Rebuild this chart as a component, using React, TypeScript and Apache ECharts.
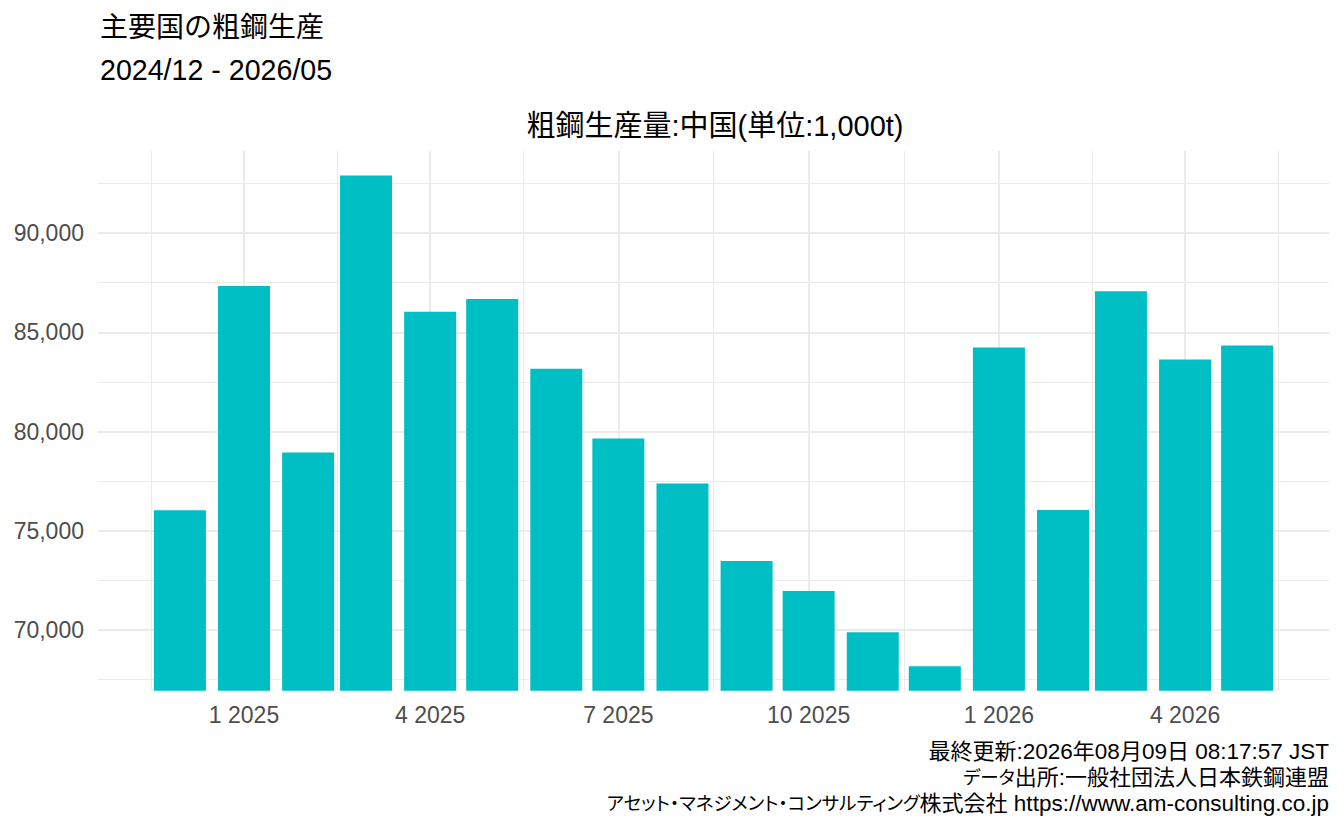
import React, { useEffect, useRef } from "react";
import * as echarts from "echarts";

// ---- data ----
const months = [
  "2024-12", "2025-01", "2025-02", "2025-03", "2025-04", "2025-05",
  "2025-06", "2025-07", "2025-08", "2025-09", "2025-10", "2025-11",
  "2025-12", "2026-01", "2026-02", "2026-03", "2026-04", "2026-05",
];
const production = [
  76030, 87337, 78945, 92900, 86030, 86683,
  83166, 79648, 77387, 73477, 71970, 69884,
  68176, 84231, 76040, 87063, 83628, 84332,
];
const xMajorBreaks = ["2025-01", "2025-04", "2025-07", "2025-10", "2026-01", "2026-04"];
const xMinorBreaks = ["2024-11-17", "2025-02-15", "2025-05-16", "2025-08-16", "2025-11-16", "2026-02-15", "2026-05-16"];
const yMajorBreaks = [70000, 75000, 80000, 85000, 90000];
const yMinorBreaks = [67500, 72500, 77500, 82500, 87500, 92500];

const titleText = "主要国の粗鋼生産";
const subtitleText = "2024/12 - 2026/05";
const panelTitle = "粗鋼生産量:中国(単位:1,000t)";
const captionLines = [
  "最終更新:2026年08月09日 08:17:57 JST",
  "データ出所:一般社団法人日本鉄鋼連盟",
  "アセット・マネジメント・コンサルティング株式会社 https://www.am-consulting.co.jp",
];

const FONT = "'Liberation Sans', Arial, 'Noto Sans CJK JP', sans-serif";
const DAY = 86400000;

function toTime(s: string): number {
  const [y, m, d] = s.split("-").map(Number);
  return Date.UTC(y, m - 1, d || 1);
}

// split a caption line into kana / kanji / latin runs for rich text
function toRich(s: string): string {
  const kind = (ch: string) =>
    /[\u3040-\u30ff]/.test(ch) ? "kana" : /[\u4e00-\u9fff]/.test(ch) ? "kanji" : "en";
  let out = "";
  let cur = "";
  let curKind = "";
  for (const ch of s) {
    const k = kind(ch);
    if (k !== curKind && cur) {
      out += `{${curKind}|${cur}}`;
      cur = "";
    }
    curKind = k;
    cur += ch;
  }
  if (cur) out += `{${curKind}|${cur}}`;
  return out;
}

export default function App() {
  const ref = useRef<HTMLDivElement>(null);

  useEffect(() => {
    document.body.style.margin = "0";
    const css = document.createElement("style");
    css.textContent = 'text[style*="18.5px"] { font-feature-settings: "palt" 1; }';
    document.head.appendChild(css);
    if (!ref.current) return;
    const chart = echarts.init(ref.current, null, { renderer: "svg" });

    const lo = Math.min(...production);
    const hi = Math.max(...production);
    const pad = (hi - lo) * 0.05;
    const yMin = lo - pad;
    const yMax = hi + pad;

    const xMin = toTime(months[0]) - 39.6 * DAY;
    const xMax = toTime(months[months.length - 1]) + 39.6 * DAY;

    const majorX = xMajorBreaks.map(toTime);
    const minorX = xMinorBreaks.map(toTime);

    const text = (t: string, x: number, y: number, size: number, align: string, fill = "#000") => ({
      type: "text",
      x,
      y,
      silent: true,
      style: {
        text: t,
        fill,
        fontSize: size,
        fontFamily: FONT,
        align,
        textAlign: align,
        verticalAlign: "middle",
        textVerticalAlign: "middle",
      },
    });

    const captionText = (t: string, x: number, y: number) => ({
      type: "text",
      x,
      y,
      silent: true,
      style: {
        text: toRich(t),
        fill: "#000",
        fontSize: 22.5,
        fontFamily: FONT,
        align: "right",
        textAlign: "right",
        verticalAlign: "middle",
        textVerticalAlign: "middle",
        rich: {
          kana: { fontSize: 18.5, fontFamily: FONT, fill: "#000" },
          kanji: { fontSize: 22, fontFamily: FONT, fill: "#000" },
          en: { fontSize: 22.5, fontFamily: FONT, fill: "#000" },
        },
      },
    });

    chart.setOption({
      animation: false,
      backgroundColor: "#ffffff",
      grid: {
        left: 98,
        right: 15,
        top: 151,
        bottom: 139.3,
        containLabel: false,
        outerBoundsMode: "none",
      },
      xAxis: [
        {
          type: "value",
          min: xMin,
          max: xMax,
          axisLine: { show: false },
          axisTick: { show: false, customValues: majorX },
          axisLabel: {
            customValues: majorX,
            color: "#4d4d4d",
            fontSize: 23,
            fontFamily: FONT,
            margin: 13,
            formatter: (v: number) => {
              const d = new Date(v);
              return `${d.getUTCMonth() + 1} ${d.getUTCFullYear()}`;
            },
          },
          splitLine: { show: true, lineStyle: { color: "#ebebeb", width: 2 } },
        },
        {
          type: "value",
          min: xMin,
          max: xMax,
          position: "top",
          axisLine: { show: false },
          axisTick: { show: false, customValues: minorX },
          axisLabel: { show: false, customValues: minorX },
          splitLine: { show: true, lineStyle: { color: "#ebebeb", width: 1 } },
        },
      ],
      yAxis: [
        {
          type: "value",
          min: yMin,
          max: yMax,
          axisLine: { show: false },
          axisTick: { show: false, customValues: yMajorBreaks },
          axisLabel: {
            customValues: yMajorBreaks,
            color: "#4d4d4d",
            fontSize: 23,
            fontFamily: FONT,
            margin: 14,
            formatter: (v: number) => Math.round(v).toLocaleString("en-US"),
          },
          splitLine: { show: true, lineStyle: { color: "#ebebeb", width: 2 } },
        },
        {
          type: "value",
          min: yMin,
          max: yMax,
          position: "right",
          axisLine: { show: false },
          axisTick: { show: false, customValues: yMinorBreaks },
          axisLabel: { show: false, customValues: yMinorBreaks },
          splitLine: { show: true, lineStyle: { color: "#ebebeb", width: 1 } },
        },
      ],
      series: [
        {
          type: "bar",
          xAxisIndex: 0,
          yAxisIndex: 0,
          clip: true,
          barWidth: 52,
          itemStyle: { color: "#00BFC4" },
          data: months.map((m, i) => [toTime(m), production[i]]),
        },
      ],
      graphic: [
        text(titleText, 100, 27, 28, "left"),
        text(subtitleText, 100, 70, 28.6, "left"),
        text(panelTitle, 715, 126, 29, "center"),
        ...captionLines.map((c, i) => captionText(c, 1329, 751 + i * 26)),
      ],
    });

    return () => {
      chart.dispose();
      css.remove();
    };
  }, []);

  return <div ref={ref} style={{ width: 1344, height: 830 }} />;
}
